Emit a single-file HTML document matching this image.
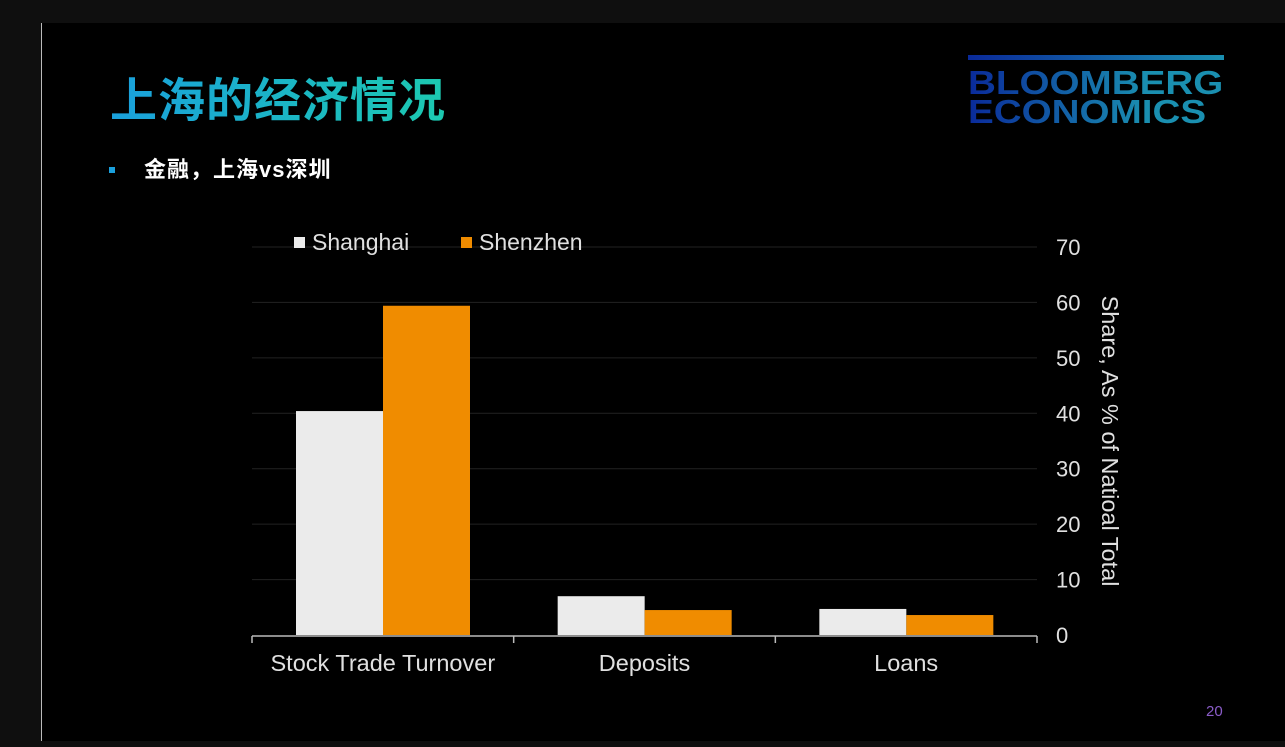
<!DOCTYPE html>
<html><head><meta charset="utf-8"><style>
html,body{margin:0;padding:0;width:1285px;height:747px;background:#0f0f0f;overflow:hidden;}
#slide{position:absolute;left:42px;top:23px;width:1243px;height:718px;background:#000;}
#lline{position:absolute;left:41px;top:23px;width:1px;height:718px;background:#bbb;}
.t{position:absolute;font-family:"Liberation Sans","Noto Sans CJK SC",sans-serif;white-space:nowrap;}
</style></head><body>
<div id="slide"></div>
<div id="lline"></div>
<div class="t" style="left:110px;top:70px;font-size:47px;line-height:62px;font-weight:bold;letter-spacing:1px;background:linear-gradient(90deg,#1aa0dc,#1cc9b0);-webkit-background-clip:text;background-clip:text;color:transparent;">上海的经济情况</div>
<div style="position:absolute;left:109px;top:167px;width:6px;height:6px;background:#1aa0dc;"></div>
<div class="t" style="left:144px;top:156px;font-size:22px;line-height:28px;color:#fff;font-weight:bold;letter-spacing:1px;">金融，上海vs深圳</div>
<div style="position:absolute;left:968px;top:55px;width:256px;">
  <div style="height:5px;background:linear-gradient(90deg,#0a2a9a,#1a8fb0);"></div>
  <div class="t" style="position:relative;font-size:33px;font-weight:bold;line-height:29px;margin-top:8px;transform-origin:0 0;transform:scaleX(1.17);background:linear-gradient(90deg,#0a2a9a,#1a8fb0 60%);-webkit-background-clip:text;background-clip:text;color:transparent;">BLOOMBERG<br>ECONOMICS</div>
</div>
<div class="t" style="left:1206px;top:703px;font-size:15px;color:#8a5cc8;">20</div>
<svg id="chart" width="1285" height="747" style="position:absolute;left:0;top:0"></svg>
<script>
const categories=["Stock Trade Turnover","Deposits","Loans"];
const shanghai=[40.4,7.0,4.7];
const shenzhen=[59.4,4.5,3.6];
const ticks=[0,10,20,30,40,50,60,70];
const seriesNames=["Shanghai","Shenzhen"];
const colors=["#ebebeb","#f08c00"];
const svg=document.getElementById('chart');
const NS="http://www.w3.org/2000/svg";
const x0=252,x1=1037,y0=635,y70=247;
const y=v=>y0-(v/70)*(y0-y70);
const bw=(x1-x0)/categories.length;
const F='Liberation Sans, sans-serif';
function mk(tag,attrs,text){const e=document.createElementNS(NS,tag);for(const k in attrs)e.setAttribute(k,attrs[k]);if(text!==undefined)e.textContent=text;svg.appendChild(e);return e;}
ticks.forEach(t=>{
  if(t>0){const g=mk('line',{x1:x0,x2:x1,y1:y(t),y2:y(t),stroke:'#222','stroke-width':1});
  
  }
  const l=mk('text',{x:1056,y:y(t)+8,fill:'#e0e0e0','font-size':22,'font-family':F},String(t));
  
  
});
[shanghai,shenzhen].forEach((s,si)=>{
  s.forEach((v,i)=>{
    const bx=x0+i*bw+44+si*87;
    const r=mk('rect',{x:bx,y:y(v),width:87,height:y0-y(v),fill:colors[si]});
    
    
  });
});
const ax=mk('line',{x1:x0,x2:x1,y1:y0+1,y2:y0+1,stroke:'#bbb','stroke-width':1.5});


for(let i=0;i<=categories.length;i++){
  const tk=mk('line',{x1:x0+i*bw,x2:x0+i*bw,y1:y0+1,y2:y0+8,stroke:'#bbb','stroke-width':1.5});
  
  
}
categories.forEach((c,i)=>{
  const t=mk('text',{x:x0+i*bw+bw/2,y:671,fill:'#e0e0e0','font-size':23.5,'text-anchor':'middle','font-family':F},c);
  
  
});
const yt=mk('text',{x:0,y:0,fill:'#e0e0e0','font-size':23.5,'text-anchor':'middle','font-family':F,transform:'translate(1102,441) rotate(90)'},'Share, As % of Natioal Total');


[[294,312],[461,479]].forEach((p,i)=>{
  const sw=mk('rect',{x:p[0],y:237,width:11,height:11,fill:colors[i]});
  
  
  const lt=mk('text',{x:p[1],y:250,fill:'#e0e0e0','font-size':23,'font-family':F},seriesNames[i]);
  
  
});
</script>
</body></html>
